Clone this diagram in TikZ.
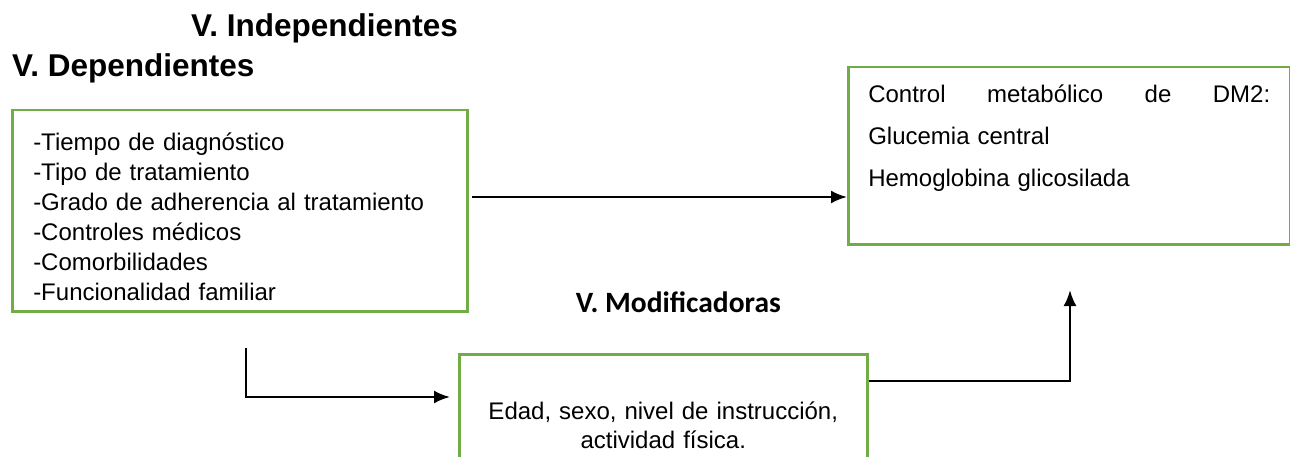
\documentclass[tikz,border=0pt]{standalone}
\usepackage{fontspec}
\setmainfont{Liberation Sans}
\newfontfamily\calibrifont{Carlito}
\usepackage{tikz}
\usetikzlibrary{arrows.meta}
\tikzset{>={Latex[length=16pt,width=13pt]}}
\definecolor{boxgreen}{HTML}{70AD47}
\tikzset{greenbox/.style={draw=boxgreen, line width=2.5pt, anchor=north west, inner ysep=0pt, align=left}}
\tikzset{link/.style={->, line width=2.4pt}}
\tikzset{title/.style={anchor=base west, inner sep=0pt, font=\fontsize{31.5}{34}\selectfont\bfseries}}

\begin{document}
\begin{tikzpicture}[x=1pt, y=-1pt]
                \useasboundingbox (0,0) rectangle (1290,457);
                \clip (0,0) rectangle (1290,457);
                \node (indep) [title] at (191,37) {V. Independientes};
                \node (deptitle) [title] at (12,77) {V. Dependientes};
                \node (modtitle) [anchor=base east, inner sep=0pt, font=\calibrifont\fontsize{29.5}{32}\selectfont\bfseries] at (781,312) {V. Modificadoras};
                \node (dep) [greenbox, inner xsep=21pt, text width=413pt, text height=40pt, text depth=161pt, font=\fontsize{24}{30}\selectfont] at (11,109) {-Tiempo de diagnóstico\\ -Tipo de tratamiento\\ -Grado de adherencia al tratamiento\\ -Controles médicos\\ -Comorbilidades\\ -Funcionalidad familiar};
                \node (obj) [greenbox, inner xsep=20pt, text width=402pt, text height=35.6pt, text depth=141.4pt, font=\fontsize{24}{42}\selectfont] at (847,66) {Control\hfill metabólico\hfill de\hfill DM2:\\ Glucemia central\\ Hemoglobina glicosilada};
                \node (mod) [greenbox, align=center, inner xsep=20pt, text width=368pt, text height=65pt, text depth=65pt, font=\fontsize{24}{29}\selectfont] at (458,353) {Edad, sexo, nivel de instrucción,\\ actividad física.};
                \coordinate (a1) at (472,197);
                \draw[link] (a1) -- (a1 -| obj.west);
                \coordinate (b1) at (246,348);
                \coordinate (b2) at (450,397);
                \draw[link] (b1) |- (b2);
                \coordinate (c1) at (1070,290);
                \draw[link] ([yshift=-28pt]mod.north east) -| (c1);
            \end{tikzpicture}
\end{document}
